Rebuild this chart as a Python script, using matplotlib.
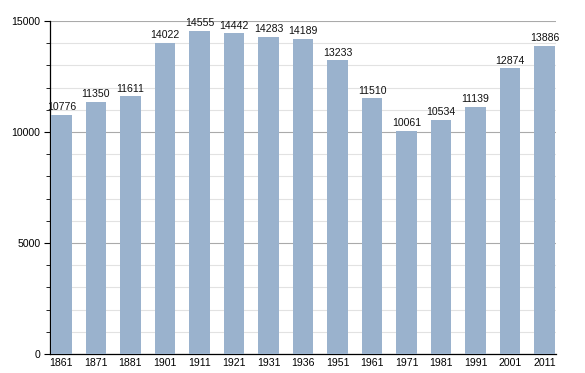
import matplotlib
matplotlib.use("Agg")
import matplotlib.pyplot as plt
from matplotlib.ticker import MultipleLocator

plt.rcParams['font.family'] = ['Liberation Sans', 'DejaVu Sans']

years = ["1861", "1871", "1881", "1901", "1911", "1921", "1931", "1936",
         "1951", "1961", "1971", "1981", "1991", "2001", "2011"]
population = [10776, 11350, 11611, 14022, 14555, 14442, 14283, 14189,
              13233, 11510, 10061, 10534, 11139, 12874, 13886]

fig = plt.figure(figsize=(5.85, 3.73), dpi=100)
ax = fig.add_axes([50/585, 19/373, 506/585, 333/373])

w = 0.6
x = list(range(len(years)))
ax.bar(x, population, width=w, color="#9ab2cd", zorder=3)
for xi, v in zip(x, population):
    ax.text(xi, v + 120, str(v), ha="center", va="bottom", fontsize=7.6,
            color="#111111", zorder=4)

ax.set_xlim(-w/2 - 0.03, len(years) - 1 + w/2 + 0.03)
ax.set_ylim(0, 15000)
ax.yaxis.set_major_locator(MultipleLocator(5000))
ax.yaxis.set_minor_locator(MultipleLocator(1000))
ax.grid(axis="y", which="major", color="#aaaaaa", linewidth=0.8, zorder=1)
ax.grid(axis="y", which="minor", color="#e2e2e2", linewidth=0.8, zorder=1)
ax.set_xticks(x)
ax.set_xticklabels(years)
ax.tick_params(axis="x", length=0, labelsize=7.6, pad=3)
ax.tick_params(axis="y", which="major", length=4, labelsize=7.6, pad=3)
ax.tick_params(axis="y", which="minor", length=3)
for s in ["top", "right"]:
    ax.spines[s].set_visible(False)
ax.spines["left"].set_linewidth(0.9)
ax.spines["bottom"].set_linewidth(0.9)

fig.savefig("out.png", dpi=100)
